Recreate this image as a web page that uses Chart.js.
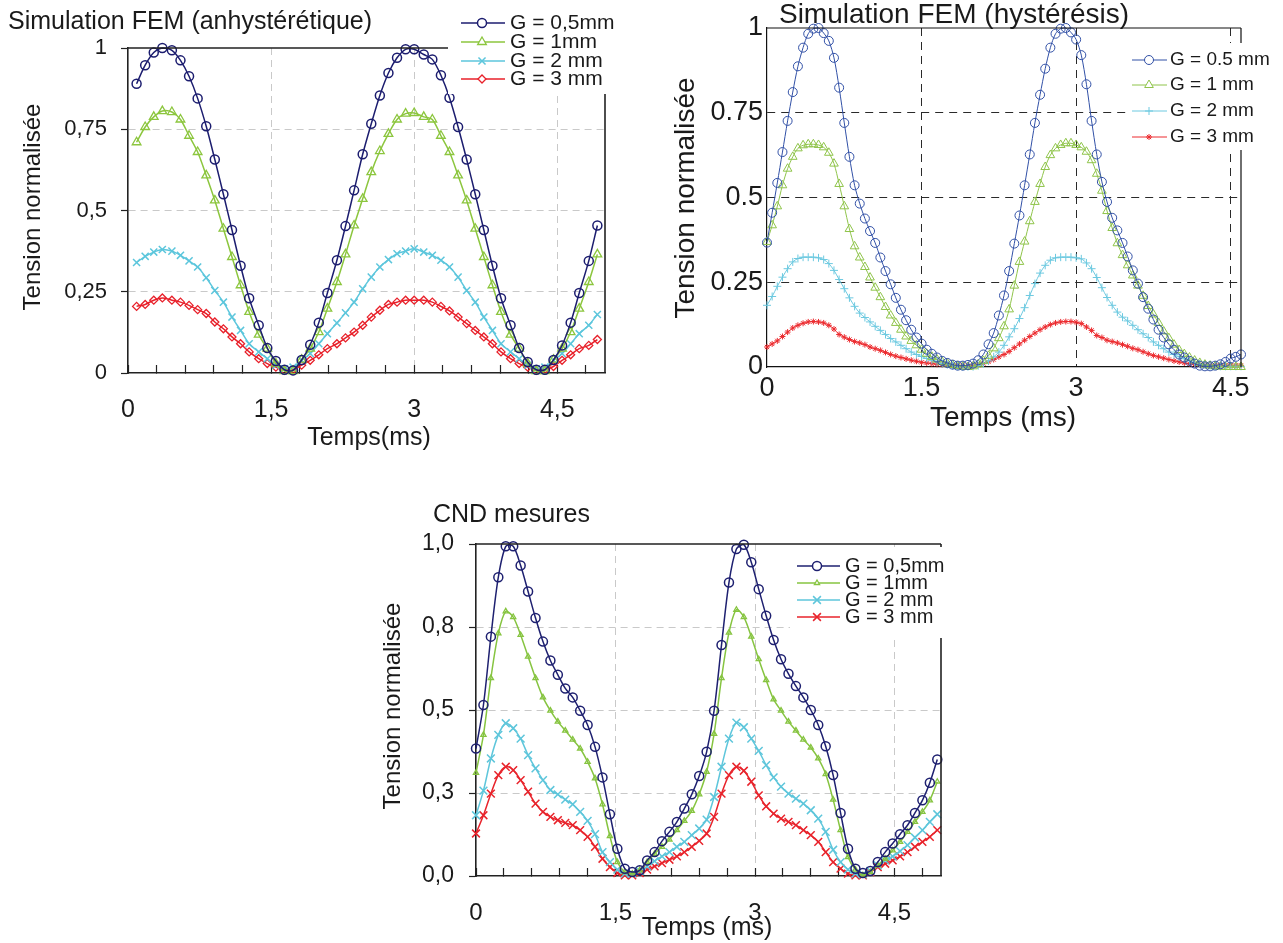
<!DOCTYPE html>
<html>
<head>
<meta charset="utf-8">
<title>Tension normalisée</title>
<script src="https://cdn.jsdelivr.net/npm/chart.js@4.4.1/dist/chart.umd.min.js"></script>
<style>
  html, body { margin: 0; padding: 0; background: #fff; }
  #wrap { position: relative; width: 1283px; height: 943px; overflow: hidden; }
  #wrap canvas { position: absolute; left: 0; top: 0; }
</style>
</head>
<body>
<div id="wrap">
  <canvas id="anhChart" width="1283" height="943"></canvas>
  <canvas id="hysChart" width="1283" height="943"></canvas>
  <canvas id="cndChart" width="1283" height="943"></canvas>
</div>
<script>
// ---- data ----
const seriesLabels = ['G = 0,5mm', 'G = 1mm', 'G = 2 mm', 'G = 3 mm'];
const seriesLabelsHys = ['G = 0.5 mm', 'G = 1 mm', 'G = 2 mm', 'G = 3 mm'];

// chart 1 : Simulation FEM (anhystérétique)
const anhTime = [0.09,0.18,0.27,0.36,0.46,0.55,0.64,0.73,0.82,0.91,1.0,1.09,1.18,1.27,1.37,1.46,1.55,1.64,1.73,1.82,1.91,2.0,2.09,2.19,2.28,2.37,2.46,2.55,2.64,2.73,2.82,2.91,3.0,3.1,3.19,3.28,3.37,3.46,3.55,3.64,3.73,3.82,3.91,4.01,4.1,4.19,4.28,4.37,4.46,4.55,4.64,4.73,4.83,4.92];
const anhG05 = [0.89,0.947,0.986,1.0,0.993,0.962,0.913,0.845,0.759,0.657,0.55,0.44,0.33,0.23,0.147,0.077,0.037,0.01,0.008,0.04,0.087,0.155,0.246,0.347,0.452,0.562,0.673,0.767,0.854,0.923,0.97,0.996,0.996,0.98,0.965,0.916,0.847,0.757,0.657,0.55,0.44,0.33,0.23,0.147,0.077,0.034,0.01,0.01,0.04,0.085,0.155,0.246,0.345,0.454];
const anhG1 = [0.71,0.757,0.788,0.806,0.803,0.78,0.73,0.68,0.608,0.531,0.444,0.357,0.27,0.188,0.118,0.075,0.029,0.006,0.006,0.041,0.075,0.126,0.198,0.28,0.365,0.454,0.536,0.618,0.683,0.736,0.78,0.798,0.8,0.788,0.78,0.73,0.68,0.608,0.531,0.444,0.357,0.27,0.188,0.118,0.075,0.029,0.006,0.006,0.041,0.075,0.126,0.198,0.28,0.365];
const anhG2 = [0.34,0.359,0.372,0.38,0.375,0.362,0.345,0.326,0.293,0.254,0.218,0.172,0.131,0.09,0.065,0.044,0.024,0.013,0.018,0.039,0.06,0.09,0.121,0.154,0.185,0.218,0.259,0.295,0.326,0.349,0.367,0.375,0.382,0.372,0.362,0.347,0.326,0.295,0.254,0.218,0.172,0.131,0.09,0.065,0.044,0.024,0.013,0.018,0.039,0.06,0.09,0.121,0.147,0.18];
const anhG3 = [0.205,0.211,0.224,0.231,0.224,0.218,0.208,0.195,0.183,0.157,0.136,0.111,0.09,0.065,0.044,0.029,0.018,0.008,0.01,0.024,0.039,0.056,0.075,0.09,0.108,0.126,0.147,0.172,0.193,0.211,0.218,0.224,0.224,0.224,0.218,0.205,0.191,0.172,0.152,0.131,0.111,0.09,0.065,0.044,0.029,0.018,0.008,0.01,0.02,0.039,0.056,0.075,0.085,0.103];

// chart 2 : Simulation FEM (hystérésis)
const hysTime = [0,0.05,0.1,0.15,0.2,0.25,0.3,0.35,0.4,0.45,0.5,0.55,0.6,0.65,0.7,0.75,0.8,0.85,0.9,0.95,1,1.05,1.1,1.15,1.2,1.25,1.3,1.35,1.4,1.45,1.5,1.55,1.6,1.65,1.7,1.75,1.8,1.85,1.9,1.95,2,2.05,2.1,2.15,2.2,2.25,2.3,2.35,2.4,2.45,2.5,2.55,2.6,2.65,2.7,2.75,2.8,2.85,2.9,2.95,3,3.05,3.1,3.15,3.2,3.25,3.3,3.35,3.4,3.45,3.5,3.55,3.6,3.65,3.7,3.75,3.8,3.85,3.9,3.95,4,4.05,4.1,4.15,4.2,4.25,4.3,4.35,4.4,4.45,4.5,4.55,4.6];
const hysG05 = [0.367,0.455,0.543,0.634,0.726,0.811,0.887,0.942,0.983,0.998,1.0,0.985,0.962,0.912,0.824,0.72,0.62,0.536,0.482,0.438,0.401,0.366,0.323,0.283,0.244,0.204,0.169,0.138,0.11,0.087,0.069,0.051,0.039,0.028,0.018,0.012,0.007,0.004,0.004,0.006,0.01,0.02,0.037,0.067,0.1,0.152,0.211,0.283,0.364,0.447,0.536,0.627,0.72,0.803,0.88,0.942,0.983,0.998,1.0,0.987,0.966,0.92,0.834,0.726,0.627,0.546,0.487,0.44,0.403,0.366,0.326,0.285,0.246,0.206,0.172,0.14,0.11,0.087,0.067,0.051,0.037,0.028,0.018,0.01,0.004,0.002,0.002,0.004,0.008,0.015,0.025,0.03,0.037];
const hysG1 = [0.369,0.418,0.474,0.536,0.585,0.62,0.645,0.654,0.657,0.657,0.655,0.648,0.632,0.6,0.54,0.474,0.407,0.356,0.323,0.295,0.264,0.234,0.206,0.177,0.152,0.13,0.11,0.09,0.077,0.064,0.051,0.039,0.03,0.022,0.015,0.01,0.006,0.003,0.001,0.0,0.002,0.008,0.018,0.033,0.055,0.085,0.12,0.17,0.24,0.31,0.37,0.43,0.487,0.54,0.59,0.625,0.645,0.655,0.66,0.66,0.655,0.648,0.635,0.61,0.57,0.52,0.46,0.41,0.365,0.33,0.3,0.27,0.24,0.21,0.18,0.155,0.13,0.105,0.085,0.066,0.05,0.038,0.028,0.019,0.012,0.007,0.004,0.002,0.001,0.0,0.0,0.0,0.0];
const hysG2 = [0.182,0.208,0.238,0.265,0.29,0.31,0.32,0.324,0.324,0.324,0.322,0.317,0.305,0.285,0.258,0.231,0.204,0.179,0.159,0.146,0.133,0.12,0.108,0.096,0.084,0.074,0.064,0.054,0.044,0.037,0.031,0.025,0.02,0.015,0.01,0.007,0.004,0.002,0.001,0.001,0.001,0.004,0.01,0.018,0.03,0.044,0.064,0.089,0.113,0.143,0.175,0.211,0.246,0.277,0.3,0.315,0.322,0.324,0.324,0.324,0.322,0.319,0.307,0.29,0.264,0.234,0.205,0.182,0.162,0.147,0.136,0.123,0.11,0.098,0.087,0.074,0.064,0.054,0.044,0.037,0.03,0.024,0.018,0.013,0.009,0.006,0.004,0.003,0.002,0.002,0.002,0.002,0.002];
const hysG3 = [0.059,0.068,0.077,0.09,0.103,0.115,0.123,0.129,0.133,0.134,0.133,0.13,0.123,0.112,0.096,0.088,0.081,0.075,0.071,0.066,0.059,0.054,0.049,0.043,0.037,0.032,0.028,0.024,0.02,0.017,0.014,0.012,0.01,0.008,0.007,0.006,0.005,0.004,0.004,0.004,0.004,0.006,0.01,0.015,0.022,0.03,0.037,0.046,0.057,0.068,0.079,0.09,0.1,0.11,0.118,0.125,0.13,0.133,0.134,0.134,0.132,0.128,0.118,0.108,0.093,0.087,0.079,0.075,0.071,0.066,0.061,0.055,0.051,0.045,0.039,0.034,0.03,0.026,0.022,0.018,0.015,0.012,0.01,0.008,0.007,0.006,0.005,0.005,0.005,0.005,0.005,0.005,0.005];

// chart 3 : CND mesures
const cndTime = [0,0.08,0.16,0.24,0.32,0.4,0.48,0.56,0.64,0.72,0.8,0.88,0.96,1.04,1.12,1.2,1.28,1.36,1.44,1.52,1.6,1.68,1.76,1.84,1.92,2,2.08,2.16,2.24,2.32,2.4,2.48,2.56,2.64,2.72,2.8,2.88,2.96,3.04,3.12,3.2,3.28,3.36,3.44,3.52,3.6,3.68,3.76,3.84,3.92,4,4.08,4.16,4.24,4.32,4.4,4.48,4.56,4.64,4.72,4.8,4.88,4.96];
const cndG05 = [0.384,0.515,0.721,0.9,0.993,0.993,0.935,0.857,0.777,0.706,0.649,0.606,0.565,0.538,0.498,0.455,0.389,0.297,0.186,0.082,0.022,0.012,0.017,0.047,0.072,0.105,0.133,0.163,0.203,0.246,0.301,0.374,0.498,0.696,0.884,0.985,0.998,0.945,0.864,0.784,0.711,0.653,0.609,0.572,0.538,0.5,0.455,0.391,0.304,0.19,0.082,0.022,0.009,0.015,0.042,0.072,0.098,0.126,0.153,0.19,0.228,0.281,0.351];
const cndG1 = [0.311,0.425,0.596,0.731,0.797,0.78,0.726,0.661,0.596,0.538,0.498,0.465,0.438,0.411,0.384,0.344,0.294,0.216,0.12,0.042,0.012,0.007,0.017,0.042,0.067,0.088,0.11,0.138,0.166,0.196,0.246,0.314,0.428,0.596,0.733,0.802,0.78,0.721,0.653,0.59,0.532,0.498,0.465,0.438,0.411,0.387,0.354,0.307,0.23,0.138,0.057,0.019,0.002,0.012,0.032,0.052,0.077,0.103,0.133,0.163,0.193,0.228,0.284];
const cndG2 = [0.183,0.257,0.354,0.425,0.46,0.445,0.414,0.364,0.324,0.289,0.259,0.246,0.23,0.216,0.193,0.166,0.126,0.072,0.042,0.019,0.007,0.007,0.015,0.029,0.045,0.059,0.072,0.088,0.103,0.123,0.143,0.17,0.238,0.329,0.414,0.462,0.448,0.414,0.377,0.334,0.297,0.269,0.248,0.233,0.218,0.198,0.173,0.133,0.079,0.042,0.019,0.007,0.005,0.015,0.032,0.047,0.059,0.075,0.093,0.116,0.138,0.163,0.186];
const cndG3 = [0.128,0.183,0.248,0.304,0.329,0.319,0.289,0.254,0.218,0.193,0.178,0.168,0.16,0.153,0.138,0.118,0.088,0.052,0.027,0.009,0.002,0.002,0.009,0.019,0.029,0.039,0.049,0.059,0.072,0.088,0.106,0.128,0.178,0.248,0.304,0.329,0.317,0.284,0.243,0.21,0.188,0.173,0.163,0.153,0.138,0.123,0.103,0.072,0.042,0.022,0.007,0.002,0.002,0.012,0.027,0.037,0.047,0.059,0.072,0.088,0.103,0.118,0.138];

// ticks
const yTickValues = [0, 0.25, 0.5, 0.75, 1];
const anhYLabels = ['0', '0,25', '0,5', '0,75', '1'];
const hysYLabels = ['0', '0.25', '0.5', '0.75', '1'];
const cndYLabels = ['0,0', '0,3', '0,5', '0,8', '1,0'];
const xMajorValues = [0, 1.5, 3, 4.5];
const commaXLabels = ['0', '1,5', '3', '4,5'];
const dotXLabels = ['0', '1.5', '3', '4.5'];
const minorXValues = [0,0.3,0.6,0.9,1.2,1.5,1.8,2.1,2.4,2.7,3,3.3,3.6,3.9,4.2,4.5,4.8];

// texts
const yTitle = 'Tension normalisée';

const INK = '#1a1a1a';
const CLEAR = 'rgba(0,0,0,0)';
const Y_AXIS_W = 120;
const X_AXIS_H = 60;

// Draws frame sides, the legend box and the free texts
const decoPlugin = {
  id: 'deco',
  afterDraw(chart, args, o) {
    const ctx = chart.ctx;
    const a = chart.chartArea;
    ctx.save();

    // top / right sides of the frame
    ctx.strokeStyle = o.frameColor;
    ctx.lineWidth = o.frameWidth;
    ctx.setLineDash([]);
    ctx.beginPath();
    ctx.moveTo(a.left, a.top);
    ctx.lineTo(a.right, a.top);
    ctx.moveTo(a.right, a.top);
    ctx.lineTo(a.right, a.bottom);
    ctx.stroke();

    // legend
    const L = o.legend;
    ctx.fillStyle = '#fff';
    ctx.fillRect(L.box[0], L.box[1], L.box[2], L.box[3]);
    ctx.font = L.font;
    ctx.textBaseline = 'middle';
    ctx.textAlign = 'left';
    chart.data.datasets.forEach((ds, i) => {
      const y = L.rows[i];
      ctx.strokeStyle = ds.borderColor;
      ctx.lineWidth = ds.borderWidth;
      ctx.beginPath();
      ctx.moveTo(L.x0, y);
      ctx.lineTo(L.x1, y);
      ctx.stroke();
      ctx.fillStyle = '#fff';
      ctx.lineWidth = ds.pointBorderWidth;
      if (Chart.helpers && Chart.helpers.drawPoint) {
        Chart.helpers.drawPoint(ctx, {
          pointStyle: ds.pointStyle, radius: ds.pointRadius,
          borderWidth: ds.pointBorderWidth, rotation: 0
        }, L.mx, y);
      }
      ctx.fillStyle = INK;
      ctx.fillText(ds.label, L.tx, y);
    });

    // titles
    ctx.fillStyle = INK;
    o.texts.forEach(t => {
      ctx.save();
      ctx.font = t.font;
      ctx.textAlign = t.align || 'center';
      ctx.textBaseline = 'middle';
      ctx.translate(t.x, t.y);
      if (t.rotate) ctx.rotate(t.rotate);
      ctx.fillText(t.text, 0, 0);
      ctx.restore();
    });
    ctx.restore();
  }
};

function makeSeries(label, time, values, style) {
  return Object.assign({
    label: label,
    data: time.map((t, i) => ({ x: t, y: values[i] })),
    fill: false,
    clip: false,
    tension: 0.3,
    pointBackgroundColor: CLEAR,
    pointBorderColor: style.borderColor
  }, style);
}

function isInner(v, lo, hi) {
  return v > lo + 1e-6 && v < hi - 1e-6;
}

// Build one of the three charts; plot box given in page pixels
function buildChart(id, cfg) {
  const xMajorIdx = v => xMajorValues.findIndex(m => Math.abs(m - v) < 1e-6);
  const box = cfg.plot;
  new Chart(document.getElementById(id), {
    type: 'line',
    data: { datasets: cfg.datasets },
    options: {
      responsive: false,
      animation: false,
      events: [],
      layout: {
        padding: {
          left: box.left - Y_AXIS_W,
          right: 1283 - box.right,
          top: box.top,
          bottom: 943 - box.bottom - X_AXIS_H
        }
      },
      plugins: {
        legend: { display: false },
        tooltip: { enabled: false },
        deco: cfg.deco
      },
      scales: {
        x: {
          type: 'linear',
          position: 'bottom',
          min: 0,
          max: cfg.xMax,
          afterBuildTicks: s => { s.ticks = cfg.xTicks.map(v => ({ value: v })); },
          afterFit: s => { s.height = X_AXIS_H; },
          ticks: {
            autoSkip: false,
            maxRotation: 0,
            padding: cfg.xPad,
            color: INK,
            font: cfg.xFont,
            callback: v => { const i = xMajorIdx(v); return i < 0 ? '' : cfg.xLabels[i]; }
          },
          grid: {
            color: c => (xMajorIdx(c.tick.value) > 0 ? cfg.gridColor : CLEAR),
            tickColor: cfg.frameColor,
            drawTicks: cfg.xTickLen !== 0,
            tickLength: cfg.xTickLen,
            tickWidth: 1.2,
            lineWidth: 1
          },
          border: { color: cfg.frameColor, width: cfg.frameWidth, dash: cfg.gridDash }
        },
        y: {
          type: 'linear',
          min: 0,
          max: 1,
          afterBuildTicks: s => { s.ticks = yTickValues.map(v => ({ value: v })); },
          afterFit: s => { s.width = Y_AXIS_W; },
          ticks: {
            padding: cfg.yPad,
            color: INK,
            font: cfg.yFont,
            callback: (v, i) => cfg.yLabels[i]
          },
          grid: {
            color: c => (isInner(c.tick.value, 0, 1) ? cfg.gridColor : CLEAR),
            tickColor: cfg.frameColor,
            drawTicks: cfg.yTickLen !== 0,
            tickLength: cfg.yTickLen,
            tickWidth: 1.2,
            lineWidth: 1
          },
          border: { color: cfg.frameColor, width: cfg.frameWidth, dash: cfg.gridDash }
        }
      }
    },
    plugins: [decoPlugin]
  });
}

// series styles
const anhStyles = [
  { borderColor: '#1c1d6f', borderWidth: 1.5, pointStyle: 'circle', pointRadius: 4.5, pointBorderWidth: 1.5 },
  { borderColor: '#8cc63e', borderWidth: 1.5, pointStyle: 'triangle', pointRadius: 5, pointBorderWidth: 1.3 },
  { borderColor: '#5cc6dc', borderWidth: 1.5, pointStyle: 'crossRot', pointRadius: 5, pointBorderWidth: 1.5 },
  { borderColor: '#e8202a', borderWidth: 1.5, pointStyle: 'rectRot', pointRadius: 4, pointBorderWidth: 1.3 }
];
const hysStyles = [
  { borderColor: '#3150a6', borderWidth: 1, pointStyle: 'circle', pointRadius: 4.5, pointBorderWidth: 1 },
  { borderColor: '#8fc44a', borderWidth: 1, pointStyle: 'triangle', pointRadius: 5, pointBorderWidth: 1 },
  { borderColor: '#6cc9e0', borderWidth: 1, pointStyle: 'cross', pointRadius: 4, pointBorderWidth: 1 },
  { borderColor: '#ec2a2e', borderWidth: 1, pointStyle: 'star', pointRadius: 3, pointBorderWidth: 1 }
];
const cndStyles = [
  { borderColor: '#1e2070', borderWidth: 1.5, pointStyle: 'circle', pointRadius: 4.5, pointBorderWidth: 1.5 },
  { borderColor: '#86c440', borderWidth: 1.5, pointStyle: 'triangle', pointRadius: 3, pointBorderWidth: 1.3 },
  { borderColor: '#5ec6db', borderWidth: 1.5, pointStyle: 'crossRot', pointRadius: 5.5, pointBorderWidth: 1.5 },
  { borderColor: '#e8232b', borderWidth: 1.5, pointStyle: 'crossRot', pointRadius: 5.5, pointBorderWidth: 1.5 }
];

window.addEventListener('load', function() {
  const lib = '"Liberation Sans", Arial, sans-serif';

  // chart 1
  buildChart('anhChart', {
    datasets: [
      makeSeries(seriesLabels[0], anhTime, anhG05, anhStyles[0]),
      makeSeries(seriesLabels[1], anhTime, anhG1, anhStyles[1]),
      makeSeries(seriesLabels[2], anhTime, anhG2, anhStyles[2]),
      makeSeries(seriesLabels[3], anhTime, anhG3, anhStyles[3])
    ],
    plot: { left: 128, right: 605, top: 48, bottom: 373 },
    xMax: 5, xTicks: minorXValues, xLabels: commaXLabels, yLabels: anhYLabels,
    xFont: { family: lib, size: 25 }, yFont: { family: lib, size: 22 },
    xPad: 30, yPad: 14, xTickLen: -8, yTickLen: 7,
    gridColor: '#c9c9c9', gridDash: [7, 5], frameColor: '#222', frameWidth: 1.6,
    deco: {
      frameColor: '#222', frameWidth: 1.6,
      legend: { box: [448, 0, 180, 94], x0: 461, x1: 505, mx: 482, tx: 510, rows: [23, 42, 61, 79], font: '21px ' + lib },
      texts: [
        { text: 'Simulation FEM (anhystérétique)', x: 8, y: 22, font: '25px ' + lib, align: 'left' },
        { text: yTitle, x: 33, y: 207, font: '24px ' + lib, rotate: -Math.PI / 2 },
        { text: 'Temps(ms)', x: 369, y: 438, font: '25px ' + lib }
      ]
    }
  });

  // chart 2
  buildChart('hysChart', {
    datasets: [
      makeSeries(seriesLabelsHys[0], hysTime, hysG05, hysStyles[0]),
      makeSeries(seriesLabelsHys[1], hysTime, hysG1, hysStyles[1]),
      makeSeries(seriesLabelsHys[2], hysTime, hysG2, hysStyles[2]),
      makeSeries(seriesLabelsHys[3], hysTime, hysG3, hysStyles[3])
    ],
    plot: { left: 767, right: 1241, top: 28, bottom: 367 },
    xMax: 4.6, xTicks: xMajorValues, xLabels: dotXLabels, yLabels: hysYLabels,
    xFont: { family: lib, size: 27 }, yFont: { family: lib, size: 27 },
    xPad: 5, yPad: 4, xTickLen: 0, yTickLen: 0,
    gridColor: '#2a2a2a', gridDash: [8, 6], frameColor: '#111', frameWidth: 1.2,
    deco: {
      frameColor: '#111', frameWidth: 1.2,
      legend: { box: [1128, 43, 155, 107], x0: 1132, x1: 1167, mx: 1149, tx: 1170, rows: [60, 85, 111, 137], font: '19px ' + lib },
      texts: [
        { text: 'Simulation FEM (hystérésis)', x: 954, y: 15, font: '28px ' + lib },
        { text: yTitle, x: 686, y: 198, font: '28px ' + lib, rotate: -Math.PI / 2 },
        { text: 'Temps (ms)', x: 1003, y: 418, font: '28px ' + lib }
      ]
    }
  });

  // chart 3
  buildChart('cndChart', {
    datasets: [
      makeSeries(seriesLabels[0], cndTime, cndG05, cndStyles[0]),
      makeSeries(seriesLabels[1], cndTime, cndG1, cndStyles[1]),
      makeSeries(seriesLabels[2], cndTime, cndG2, cndStyles[2]),
      makeSeries(seriesLabels[3], cndTime, cndG3, cndStyles[3])
    ],
    plot: { left: 476, right: 941, top: 544, bottom: 876 },
    xMax: 5, xTicks: minorXValues, xLabels: commaXLabels, yLabels: cndYLabels,
    xFont: { family: lib, size: 24 }, yFont: { family: lib, size: 23 },
    xPad: 31, yPad: 15, xTickLen: -8, yTickLen: 7,
    gridColor: '#c9c9c9', gridDash: [7, 5], frameColor: '#222', frameWidth: 1.6,
    deco: {
      frameColor: '#222', frameWidth: 1.6,
      legend: { box: [790, 547, 170, 91], x0: 797, x1: 840, mx: 817, tx: 845, rows: [566, 583, 600, 617], font: '20px ' + lib },
      texts: [
        { text: 'CND mesures', x: 433, y: 515, font: '25px ' + lib, align: 'left' },
        { text: yTitle, x: 393, y: 706, font: '24px ' + lib, rotate: -Math.PI / 2 },
        { text: 'Temps (ms)', x: 707, y: 928, font: '25px ' + lib }
      ]
    }
  });
});
</script>
</body>
</html>
